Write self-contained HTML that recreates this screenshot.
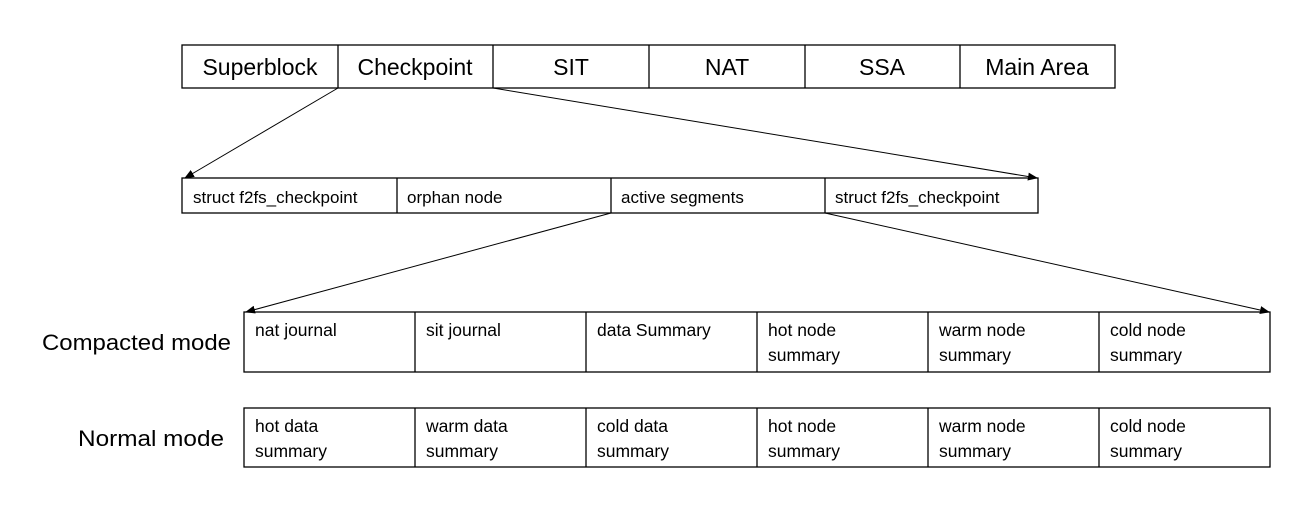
<!DOCTYPE html>
<html><head><meta charset="utf-8">
<style>
html,body{margin:0;padding:0;background:#fff;}
svg{display:block;}
text{font-family:"Liberation Sans",sans-serif;fill:#000;}
</style></head>
<body>
<svg width="1302" height="509" viewBox="0 0 1302 509">
<defs>
<marker id="ah" viewBox="0 0 10 10" refX="9" refY="5" markerWidth="10" markerHeight="10" orient="auto-start-reverse">
<path d="M0,1 L10,5 L0,9 z" fill="#000"/>
</marker>
</defs>
<g stroke="#000" stroke-width="1.3" fill="none">
<rect x="182" y="45" width="933" height="43"/>
<line x1="338" y1="45" x2="338" y2="88"/>
<line x1="493" y1="45" x2="493" y2="88"/>
<line x1="649" y1="45" x2="649" y2="88"/>
<line x1="805" y1="45" x2="805" y2="88"/>
<line x1="960" y1="45" x2="960" y2="88"/>
</g>
<g font-size="23" text-anchor="middle">
<text x="260" y="75">Superblock</text>
<text x="415" y="75">Checkpoint</text>
<text x="571" y="75">SIT</text>
<text x="727" y="75">NAT</text>
<text x="882" y="75">SSA</text>
<text x="1037" y="75">Main Area</text>
</g>

<g stroke="#000" stroke-width="1.3" fill="none">
<rect x="182" y="178" width="856" height="35"/>
<line x1="397" y1="178" x2="397" y2="213"/>
<line x1="611" y1="178" x2="611" y2="213"/>
<line x1="825" y1="178" x2="825" y2="213"/>
</g>
<g font-size="17">
<text x="193" y="203">struct f2fs_checkpoint</text>
<text x="407" y="203">orphan node</text>
<text x="621" y="203">active segments</text>
<text x="835" y="203">struct f2fs_checkpoint</text>
</g>

<g stroke="#000" stroke-width="1" fill="none">
<line x1="338" y1="88" x2="185" y2="178" marker-end="url(#ah)"/>
<line x1="493" y1="88" x2="1037" y2="178" marker-end="url(#ah)"/>
<line x1="611" y1="213" x2="246" y2="312" marker-end="url(#ah)"/>
<line x1="825" y1="213" x2="1269" y2="312" marker-end="url(#ah)"/>
</g>

<text x="42" y="350" font-size="22" textLength="189" lengthAdjust="spacingAndGlyphs">Compacted mode</text>
<text x="78" y="446" font-size="22" textLength="146" lengthAdjust="spacingAndGlyphs">Normal mode</text>

<g stroke="#000" stroke-width="1.3" fill="none">
<rect x="244" y="312" width="1026" height="60"/>
<line x1="415" y1="312" x2="415" y2="372"/>
<line x1="586" y1="312" x2="586" y2="372"/>
<line x1="757" y1="312" x2="757" y2="372"/>
<line x1="928" y1="312" x2="928" y2="372"/>
<line x1="1099" y1="312" x2="1099" y2="372"/>
</g>
<g font-size="17.5">
<text x="255" y="336">nat journal</text>
<text x="426" y="336">sit journal</text>
<text x="597" y="336">data Summary</text>
<text x="768" y="336">hot node<tspan x="768" y="361">summary</tspan></text>
<text x="939" y="336">warm node<tspan x="939" y="361">summary</tspan></text>
<text x="1110" y="336">cold node<tspan x="1110" y="361">summary</tspan></text>
</g>

<g stroke="#000" stroke-width="1.3" fill="none">
<rect x="244" y="408" width="1026" height="59"/>
<line x1="415" y1="408" x2="415" y2="467"/>
<line x1="586" y1="408" x2="586" y2="467"/>
<line x1="757" y1="408" x2="757" y2="467"/>
<line x1="928" y1="408" x2="928" y2="467"/>
<line x1="1099" y1="408" x2="1099" y2="467"/>
</g>
<g font-size="17.5">
<text x="255" y="432">hot data<tspan x="255" y="457">summary</tspan></text>
<text x="426" y="432">warm data<tspan x="426" y="457">summary</tspan></text>
<text x="597" y="432">cold data<tspan x="597" y="457">summary</tspan></text>
<text x="768" y="432">hot node<tspan x="768" y="457">summary</tspan></text>
<text x="939" y="432">warm node<tspan x="939" y="457">summary</tspan></text>
<text x="1110" y="432">cold node<tspan x="1110" y="457">summary</tspan></text>
</g>
</svg>
</body></html>
